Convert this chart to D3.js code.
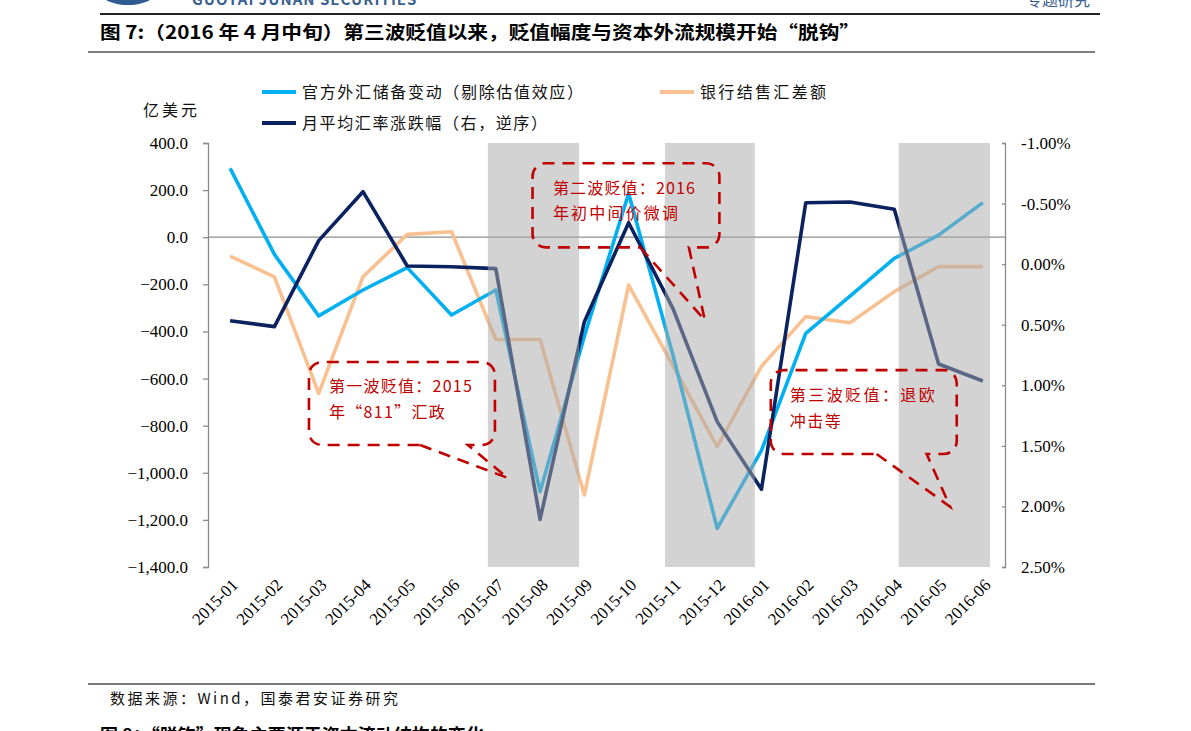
<!DOCTYPE html>
<html>
<head>
<meta charset="utf-8">
<script src="https://cdn.jsdelivr.net/npm/d3@7"></script>
<style>
  html, body { margin: 0; padding: 0; background: #fff; }
  svg { display: block; }
  .num { font-family: "Liberation Serif", "DejaVu Serif", serif; }
  .cjk { font-family: "Noto Sans CJK SC", "Noto Sans", sans-serif; }
</style>
</head>
<body>
<svg id="chart" width="1191" height="731"></svg>
<script>
// ---------- data ----------
const categories = ["2015-01","2015-02","2015-03","2015-04","2015-05","2015-06","2015-07","2015-08","2015-09",
                    "2015-10","2015-11","2015-12","2016-01","2016-02","2016-03","2016-04","2016-05","2016-06"];
// 官方外汇储备变动（剔除估值效应），亿美元
const reserveChange = [292, -73, -334, -224, -129, -330, -224, -1080, -420, 186, -500, -1236, -905, -408, -250, -90, 9, 147];
// 银行结售汇差额，亿美元
const fxSettlement = [-80, -168, -663, -168, 12, 23, -434, -434, -1094, -203, -545, -889, -548, -337, -363, -231, -125, -125];
// 月平均汇率涨跌幅（右，逆序），%
const fxChangePct = [0.467, 0.516, -0.194, -0.598, 0.015, 0.021, 0.037, 2.107, 0.475, -0.342, 0.365, 1.30, 1.859, -0.507, -0.513, -0.453, 0.824, 0.965];
const leftTicks = [400, 200, 0, -200, -400, -600, -800, -1000, -1200, -1400];
const rightTicks = [-1, -0.5, 0, 0.5, 1, 1.5, 2, 2.5];
// shaded depreciation waves, in category-index units
const shadedPeriods = [[5.82, 7.88], [9.82, 11.85], [15.1, 17.16]];
const seriesNames = ["官方外汇储备变动（剔除估值效应）", "银行结售汇差额", "月平均汇率涨跌幅（右，逆序）"];
// callouts: box in (category index, left-axis value) space
const callouts = [
  { lines: ["第一波贬值：2015", "年“811”汇政"], x0: 1.78, x1: 5.98, v0: -530, v1: -882, tailA: 4.29, tailB: 5.37, tipX: 6.27, tipV: -1022, tx: 2.23, tv: [-657, -767], tw: [143, 116] },
  { lines: ["第二波贬值：2016", "年初中间价微调"], x0: 6.83, x1: 11.05, v0: 314, v1: -43, tailA: 9.26, tailB: 10.36, tipX: 10.72, tipV: -352, tx: 7.29, tv: [183, 77], tw: [142, 125] },
  { lines: ["第三波贬值：退欧", "冲击等"], x0: 12.21, x1: 16.41, v0: -564, v1: -920, tailA: 14.6, tailB: 15.73, tipX: 16.26, tipV: -1144, tx: 12.64, tv: [-695, -806], tw: [145, 51] }
];

// ---------- layout ----------
const svg = d3.select("#chart");
const L = 208, R = 1005, T = 143, B = 567;
const colors = { blue: "#00b0f0", orange: "#f9c191", navy: "#0a2360", red: "#c00000", axis: "#8c8c8c" };

const x = d3.scaleBand().domain(categories).range([L, R]).paddingInner(0).paddingOuter(0);
const xc = c => x(c) + x.bandwidth() / 2;
const xi = d3.scaleLinear().domain([-0.5, categories.length - 0.5]).range([L, R]);
const y = d3.scaleLinear().domain([-1400, 400]).range([B, T]);
const yR = d3.scaleLinear().domain([-1, 2.5]).range([T, B]);

// ---------- header ----------
svg.append("text").attr("x", 192).attr("y", 5).attr("class", "cjk")
  .attr("font-size", 15).attr("font-weight", "bold").attr("fill", "#3a5f8f").attr("letter-spacing", 1)
  .text("GUOTAI JUNAN SECURITIES");
svg.append("ellipse").attr("cx", 128).attr("cy", -6).attr("rx", 26).attr("ry", 11).attr("fill", "#2f5d93");
svg.append("text").attr("x", 1090).attr("y", 6).attr("class", "cjk").attr("text-anchor", "end")
  .attr("font-size", 16).attr("fill", "#3a5f8f").text("专题研究");
svg.append("line").attr("x1", 100).attr("x2", 1100).attr("y1", 14).attr("y2", 14).attr("stroke", "#222").attr("stroke-width", 2);

svg.append("text").attr("x", 100).attr("y", 39).attr("class", "cjk")
  .attr("font-size", 18).attr("font-weight", "bold").attr("fill", "#000")
  .attr("textLength", 760).attr("lengthAdjust", "spacingAndGlyphs")
  .text("图 7:（2016 年 4 月中旬）第三波贬值以来，贬值幅度与资本外流规模开始“脱钩”");
svg.append("line").attr("x1", 88).attr("x2", 1095).attr("y1", 52).attr("y2", 52).attr("stroke", "#555").attr("stroke-width", 1.5);

// ---------- legend ----------
const legendItems = [
  { name: seriesNames[0], color: colors.blue, x: 262, y: 92, w: 281 },
  { name: seriesNames[1], color: colors.orange, x: 660, y: 92, w: 126 },
  { name: seriesNames[2], color: colors.navy, x: 262, y: 123, w: 245 }
];
const lg = svg.append("g");
legendItems.forEach(it => {
  lg.append("line").attr("x1", it.x).attr("x2", it.x + 34).attr("y1", it.y).attr("y2", it.y)
    .attr("stroke", it.color).attr("stroke-width", 4);
  lg.append("text").attr("x", it.x + 40).attr("y", it.y).attr("dy", "0.36em").attr("class", "cjk")
    .attr("font-size", 16).attr("fill", "#111")
    .attr("textLength", it.w).attr("lengthAdjust", "spacing").text(it.name);
});
svg.append("text").attr("x", 143).attr("y", 110).attr("dy", "0.36em").attr("class", "cjk")
  .attr("font-size", 16).attr("fill", "#111").attr("textLength", 54).attr("lengthAdjust", "spacing").text("亿美元");

// ---------- zero line ----------
svg.append("line").attr("x1", L).attr("x2", R).attr("y1", y(0)).attr("y2", y(0))
  .attr("stroke", colors.axis).attr("stroke-width", 1.3);

// ---------- series ----------
const lineL = d3.line().x((d, i) => xc(categories[i])).y(d => y(d));
const lineR = d3.line().x((d, i) => xc(categories[i])).y(d => yR(d));
svg.append("path").datum(fxSettlement).attr("d", lineL).attr("fill", "none")
  .attr("stroke", colors.orange).attr("stroke-width", 3.6).attr("stroke-linejoin", "round");
svg.append("path").datum(reserveChange).attr("d", lineL).attr("fill", "none")
  .attr("stroke", colors.blue).attr("stroke-width", 3.6).attr("stroke-linejoin", "round");
svg.append("path").datum(fxChangePct).attr("d", lineR).attr("fill", "none")
  .attr("stroke", colors.navy).attr("stroke-width", 3.6).attr("stroke-linejoin", "round");

// ---------- shaded periods (overlay) ----------
svg.append("g").selectAll("rect").data(shadedPeriods).join("rect")
  .attr("x", d => xi(d[0])).attr("width", d => xi(d[1]) - xi(d[0]))
  .attr("y", T).attr("height", B - T)
  .attr("fill", "#a9a9a9").attr("fill-opacity", 0.51);

// ---------- axes ----------
const axL = svg.append("g").attr("transform", `translate(${L},0)`)
  .call(d3.axisLeft(y).tickValues(leftTicks).tickSize(5).tickPadding(15).tickFormat(d3.format(",.1f")));
const axR = svg.append("g").attr("transform", `translate(${R},0)`)
  .call(d3.axisRight(yR).tickValues(rightTicks).tickSize(-3).tickPadding(16).tickFormat(d => d.toFixed(2) + "%"));
[axL, axR].forEach(ax => {
  ax.select(".domain").attr("stroke", colors.axis).attr("stroke-width", 1.3);
  ax.selectAll(".tick line").attr("stroke", colors.axis).attr("stroke-width", 1.3);
  ax.selectAll(".tick text").attr("class", "num").attr("font-size", 17).attr("fill", "#000");
});

// x labels
svg.append("g").selectAll("text").data(categories).join("text")
  .attr("class", "num").attr("font-size", 17).attr("fill", "#000")
  .attr("text-anchor", "end")
  .attr("transform", d => `translate(${xc(d) + 9},${B + 19}) rotate(-45)`)
  .text(d => d);

// ---------- callouts ----------
const cg = svg.append("g");
callouts.forEach(c => {
  const l = xi(c.x0), r = xi(c.x1), t = y(c.v0), b = y(c.v1), rad = 13;
  const p = d3.path();
  p.moveTo(xi(c.tailA), b);
  p.lineTo(xi(c.tipX), y(c.tipV));
  p.lineTo(xi(c.tailB), b);
  p.lineTo(r - rad, b);
  p.arcTo(r, b, r, b - rad, rad);
  p.lineTo(r, t + rad);
  p.arcTo(r, t, r - rad, t, rad);
  p.lineTo(l + rad, t);
  p.arcTo(l, t, l, t + rad, rad);
  p.lineTo(l, b - rad);
  p.arcTo(l, b, l + rad, b, rad);
  p.closePath();
  cg.append("path").attr("d", p.toString()).attr("fill", "none")
    .attr("stroke", colors.red).attr("stroke-width", 2.6).attr("stroke-dasharray", "12,8");
  c.lines.forEach((ln, k) => {
    cg.append("text").attr("x", xi(c.tx)).attr("y", y(c.tv[k])).attr("class", "cjk")
      .attr("font-size", 16).attr("fill", colors.red)
      .attr("textLength", c.tw[k]).attr("lengthAdjust", "spacing").text(ln);
  });
});

// ---------- footer ----------
svg.append("line").attr("x1", 88).attr("x2", 1095).attr("y1", 684).attr("y2", 684).attr("stroke", "#777").attr("stroke-width", 2);
svg.append("text").attr("x", 110).attr("y", 704).attr("class", "cjk").attr("font-size", 15).attr("fill", "#111")
  .attr("textLength", 288).attr("lengthAdjust", "spacing").text("数据来源：Wind，国泰君安证券研究");
svg.append("text").attr("x", 100).attr("y", 742).attr("class", "cjk").attr("font-size", 18).attr("font-weight", "bold")
  .attr("fill", "#000").text("图 8：“脱钩”现象主要源于资本流动结构的变化");
</script>
</body>
</html>
